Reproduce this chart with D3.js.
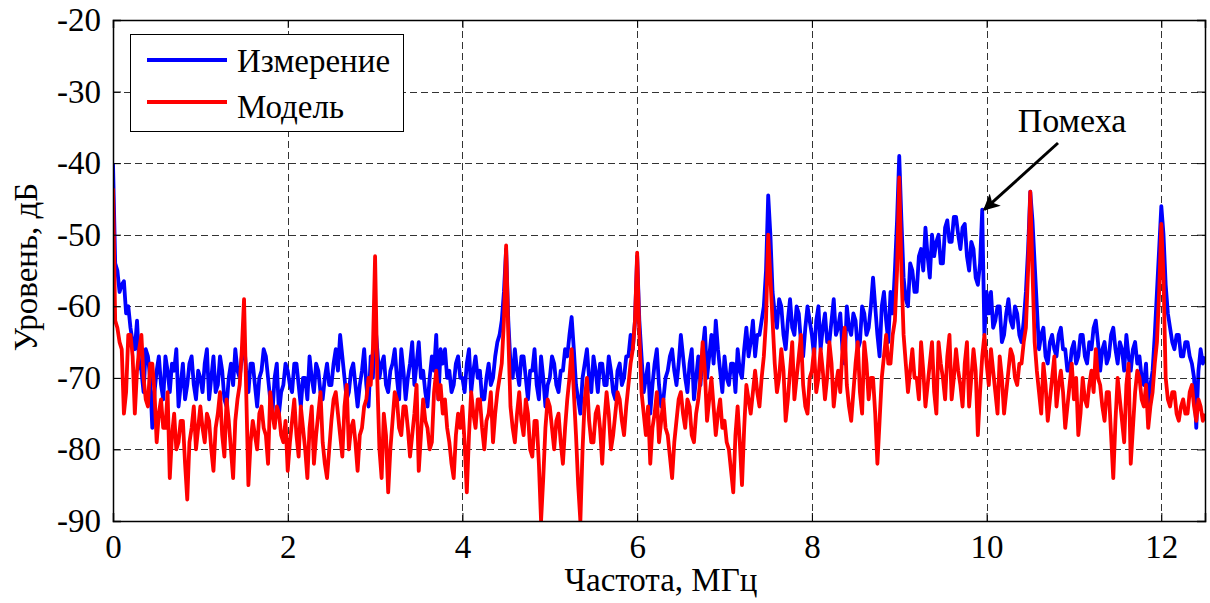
<!DOCTYPE html>
<html><head><meta charset="utf-8">
<script src="https://cdn.jsdelivr.net/npm/d3@7"></script>
<style>html,body{margin:0;padding:0;background:#fff;}svg{display:block;}</style>
</head><body>
<svg id="chart" width="1210" height="603"></svg>
<script>
// ---- data ----
const freqStep = 0.025; // MHz between samples
const measured = [
 -40,-54,-55,-58,-57,-56.5,-61,-60,-63,-65,-66,-62,-68,-69,-72,-66,-67,-70,-77,-72,-69,-67,-71,-73,-67,-69,-72,-68,-69,-66,-74,-71,-68,-73,-71,-68,-67,-71,-73,-69,
 -70,-72,-68,-66,-73,-70,-67,-72,-71,-67,-69,-73,-74,-70,-68,-71,-66,-69,-70,-67,-65,-69,-72,-68,-68,-71,-74,-70,-69,-66,-67,-70,-73,-75,-70,-68,-75,-72,-71,-68,
 -69,-71,-72,-68,-68,-71,-74,-70,-70,-73,-67,-70,-72,-68,-69,-72,-73,-70,-68,-71,-71,-68,-66,-69,-64,-67,-70,-73,-72,-69,-68,-71,-74,-71,-69,-66,-71,-74,-67,-70,
 -62,-66,-70,-68,-67,-71,-72,-69,-68,-66,-70,-73,-66,-69,-73,-70,-68,-65,-71,-68,-65,-70,-69,-72,-74,-70,-67,-69,-64,-73,-66,-68,-66,-70,-69,-72,-71,-68,-67,-70,
 -70,-72,-68,-66,-72,-69,-67,-70,-69,-73,-73,-70,-68,-71,-70,-67,-65,-64,-62,-58,-52,-62,-68,-70,-66,-69,-71,-67,-67,-70,-73,-69,-69,-66,-71,-73,-67,-70,-74,-71,
 -70,-67,-68,-71,-72,-69,-69,-66,-67,-64,-61.5,-66,-71,-73,-75,-70,-68,-66,-70,-72,-67,-69,-72,-68,-68,-71,-71,-67,-69,-72,-73,-69,-68,-71,-70,-67,-67,-64,-66,-62,
 -53,-62,-67,-72,-70,-68,-75,-71,-68,-66,-71,-74,-73,-70,-69,-67,-66,-69,-71,-68,-64,-67,-70,-72,-68,-66,-73,-70,-67,-71,-66,-63,-70,-67,-64,-68,-62,-66,-69,-72,
 -67,-70,-71,-68,-68,-72,-66,-69,-70,-66,-63,-67,-65,-62,-67,-64,-64,-62,-60,-55,-44.5,-50,-58,-61,-63,-59,-60,-64,-66,-62,-59,-63,-64,-60,-61,-65,-67,-63,-60,-62,
 -64,-67,-62,-60,-66,-63,-61,-65,-65,-62,-59,-64,-63,-61,-66,-68,-60,-63,-64,-61,-62,-66,-65,-60,-61,-64,-63,-60,-56,-60,-64,-67,-60,-58,-62,-65,-58,-61,-55,-48,
 -39,-48,-56,-59,-60,-54,-55,-58,-58,-53,-52,-55,-49,-53,-56,-50,-53,-51,-50,-54,-54,-49,-48,-51,-51,-47.5,-47.5,-50,-52,-49,-48.5,-53,-55,-51,-52,-56,-57,-54,-46.5,-64,
 -58,-61,-58,-63,-62,-60,-60,-65,-64,-61,-59,-62,-63,-60,-61,-64,-65,-62,-58,-52,-44,-48,-54,-60,-66,-64,-63,-67,-68,-65,-64,-66,-67,-64,-63,-66,-66,-69,-69,-66,
 -65,-68,-67,-64,-64,-67,-68,-65,-66,-63,-62,-65,-69,-66,-65,-68,-67,-64,-63,-66,-68,-65,-66,-69,-64,-67,-69,-66,-65,-68,-67,-70,-71,-68,-75,-71,-69,-64,-58,-52,
 -46,-50,-57,-61,-63,-65,-66,-64,-64,-67,-67,-65,-65,-67,-68,-70,-77,-69,-66,-68,-67
];
const model = [
 -43.5,-62,-63,-65,-66,-75,-72,-64,-64,-67,-75,-69,-66,-64,-70,-73,-74,-68,-68,-72,-79,-75,-73,-77,-77,-72,-84,-78,-75,-80,-79,-76,-76,-82,-87,-79,-77,-74,-80,-77,
 -74,-77,-79,-75,-76,-80,-83,-77,-75,-72,-78,-81,-73,-76,-80,-84,-76,-73,-71,-66,-59,-72,-85,-79,-76,-78,-80,-75,-74,-77,-78,-82,-72,-75,-77,-74,-75,-78,-79,-76,
 -83,-79,-76,-73,-78,-81,-74,-77,-80,-84,-77,-74,-82,-78,-75,-72,-79,-82,-84,-80,-76,-73,-72,-75,-78,-81,-74,-71,-80,-77,-76,-79,-83,-78,-77,-74,-73,-70,-71,-66,
 -53,-70,-80,-84,-75,-78,-86,-80,-76,-72,-73,-77,-78,-74,-74,-77,-81,-78,-75,-71,-83,-78,-73,-76,-77,-80,-79,-72,-69,-73,-71,-75,-73,-77,-79,-82,-84,-78,-75,-77,
 -74,-79,-86,-78,-72,-75,-77,-73,-73,-77,-80,-76,-75,-72,-79,-75,-72,-70,-68,-62,-51.5,-64,-74,-77,-79,-75,-72,-76,-78,-73,-75,-80,-81,-76,-76,-82,-90,-84,-77,-73,
 -74,-77,-80,-76,-75,-79,-82,-77,-73,-70,-66,-72,-78,-85,-90,-80,-73,-70,-76,-79,-79,-75,-74,-77,-82,-76,-72,-75,-80,-78,-75,-72,-73,-76,-78,-74,-71,-68,-66,-62,
 -52.5,-64,-72,-75,-78,-74,-82,-77,-75,-72,-79,-76,-73,-77,-78,-81,-84,-79,-76,-73,-72,-75,-77,-73,-74,-78,-79,-75,-73,-70,-65,-69,-76,-73,-70,-74,-78,-75,-73,-77,
 -76,-79,-80,-83,-86,-78,-74,-79,-85,-77,-71,-73,-75,-72,-69,-72,-74,-70,-67,-62,-50,-56,-62,-68,-72,-70,-66,-69,-76,-73,-69,-65,-73,-70,-67,-64,-71,-74,-75,-70,
 -69,-66,-72,-70,-66,-69,-73,-70,-65,-68,-74,-71,-69,-72,-66,-63,-71,-74,-76,-72,-68,-65,-72,-75,-65,-68,-73,-70,-70,-75,-82,-76,-70,-67,-64,-68,-68,-64,-62,-55,
 -42,-55,-64,-68,-72,-69,-66,-70,-70,-73,-65,-69,-74,-71,-68,-65,-72,-75,-65,-68,-70,-73,-67,-64,-73,-70,-66,-69,-71,-74,-68,-65,-74,-70,-66,-69,-78,-72,-67,-64,
 -68,-71,-66,-69,-72,-75,-67,-70,-75,-72,-69,-66,-67,-70,-71,-68,-68,-65,-63,-55,-44,-55,-65,-69,-72,-75,-68,-71,-76,-73,-70,-67,-74,-71,-69,-72,-77,-74,-71,-68,
 -73,-70,-78,-75,-70,-73,-74,-71,-69,-72,-66,-70,-71,-74,-76,-72,-72,-78,-84,-76,-70,-73,-76,-79,-71,-68,-82,-77,-72,-69,-70,-73,-74,-71,-77,-74,-72,-68,-65,-58,
 -48.5,-56,-70,-73,-74,-72,-72,-75,-76,-74,-73,-75,-75,-72,-71,-74,-76,-73,-74,-76,-75
];
const seriesNames = ["Измерение", "Модель"];
const seriesColors = ["#0000ff", "#ff0000"];
const xTicks = [0, 2, 4, 6, 8, 10, 12];
const yTicks = [-90, -80, -70, -60, -50, -40, -30, -20];
const xLabel = "Частота, МГц";
const yLabel = "Уровень, дБ";
const annotationText = "Помеха";
const annotationPoint = [9.95, -46.5];

// ---- drawing ----
const svg = d3.select("#chart");
const m = {left: 113, top: 20, right: 1205, bottom: 521};
const x = d3.scaleLinear().domain([0, 12.5]).range([m.left, m.right]);
const y = d3.scaleLinear().domain([-90, -20]).range([m.bottom, m.top]);
const W = m.right - m.left, H = m.bottom - m.top;
const font = "Liberation Serif";

svg.append("defs").append("clipPath").attr("id","clip")
  .append("rect").attr("x", m.left).attr("y", m.top).attr("width", W).attr("height", H);

// grid
const grid = svg.append("g").attr("stroke", "#333").attr("stroke-width", 1).attr("stroke-dasharray", "7,4");
grid.selectAll("line.gx").data(xTicks.filter(d => d > 0)).join("line")
  .attr("x1", d => Math.round(x(d)) + 0.5).attr("x2", d => Math.round(x(d)) + 0.5)
  .attr("y1", m.top).attr("y2", m.bottom);
grid.selectAll("line.gy").data(yTicks.filter(d => d > -90 && d < -20)).join("line")
  .attr("y1", d => Math.round(y(d)) + 0.5).attr("y2", d => Math.round(y(d)) + 0.5)
  .attr("x1", m.left).attr("x2", m.right);

// lines
const line = d3.line().x((d, i) => x(i * freqStep)).y(d => y(d));
const plot = svg.append("g").attr("clip-path", "url(#clip)");
[measured, model].forEach((s, k) => {
  plot.append("path").datum(s).attr("d", line).attr("fill", "none")
    .attr("stroke", seriesColors[k]).attr("stroke-width", 3.8).attr("stroke-linejoin", "round");
});

// axes
const axB = d3.axisBottom(x).tickValues(xTicks).tickSize(-8).tickPadding(14).tickFormat(d => String(d));
const axL = d3.axisLeft(y).tickValues(yTicks).tickSize(-8).tickPadding(12).tickFormat(d => String(d));
const axT = d3.axisTop(x).tickValues(xTicks).tickSize(-8).tickFormat("");
const axR = d3.axisRight(y).tickValues(yTicks).tickSize(-8).tickFormat("");
function style(g) {
  g.attr("font-family", font).attr("font-size", 33);
  g.selectAll("path.domain").attr("stroke", "#000").attr("stroke-width", 1.5);
  g.selectAll(".tick line").attr("stroke", "#000").attr("stroke-width", 1);
  g.selectAll("text").attr("font-family", font).attr("font-size", 33).attr("fill", "#000");
}
svg.append("g").attr("transform", `translate(0,${m.bottom})`).call(axB).call(style);
svg.append("g").attr("transform", `translate(${m.left},0)`).call(axL).call(style);
svg.append("g").attr("transform", `translate(0,${m.top})`).call(axT).call(style);
svg.append("g").attr("transform", `translate(${m.right},0)`).call(axR).call(style);

// axis labels
svg.append("text").attr("x", (m.left + m.right) / 2 + 2).attr("y", 591).attr("text-anchor", "middle")
  .attr("font-family", font).attr("font-size", 33).text(xLabel);
svg.append("text").attr("transform", `translate(37,267) rotate(-90)`)
  .attr("text-anchor", "middle").attr("font-family", font).attr("font-size", 33).text(yLabel);

// legend
const lg = svg.append("g");
lg.append("rect").attr("x", 130.5).attr("y", 34.5).attr("width", 273).attr("height", 97)
  .attr("fill", "#fff").attr("stroke", "#000").attr("stroke-width", 1);
const legendY = [60, 102];
seriesNames.forEach((n, k) => {
  const yy = legendY[k];
  lg.append("line").attr("x1", 147).attr("x2", 227).attr("y1", yy).attr("y2", yy)
    .attr("stroke", seriesColors[k]).attr("stroke-width", 4);
  lg.append("text").attr("x", 237).attr("y", yy + 12 + k * 4).attr("font-family", font)
    .attr("font-size", 33).text(n);
});

// annotation
const defs = svg.select("defs");
defs.append("marker").attr("id", "arr").attr("viewBox", "0 0 10 10").attr("refX", 9).attr("refY", 5)
  .attr("markerWidth", 7).attr("markerHeight", 5.5).attr("markerUnits", "strokeWidth").attr("orient", "auto")
  .append("path").attr("d", "M0,0 L10,5 L0,10 L2.5,5 Z").attr("fill", "#000");
const ax = x(annotationPoint[0]) + 2, ay = y(annotationPoint[1]);
svg.append("line").attr("x1", 1058).attr("y1", 143).attr("x2", ax).attr("y2", ay)
  .attr("stroke", "#000").attr("stroke-width", 3).attr("marker-end", "url(#arr)");
svg.append("text").attr("x", 1072).attr("y", 132).attr("text-anchor", "middle")
  .attr("font-family", font).attr("font-size", 34).text(annotationText);
</script>
</body></html>
